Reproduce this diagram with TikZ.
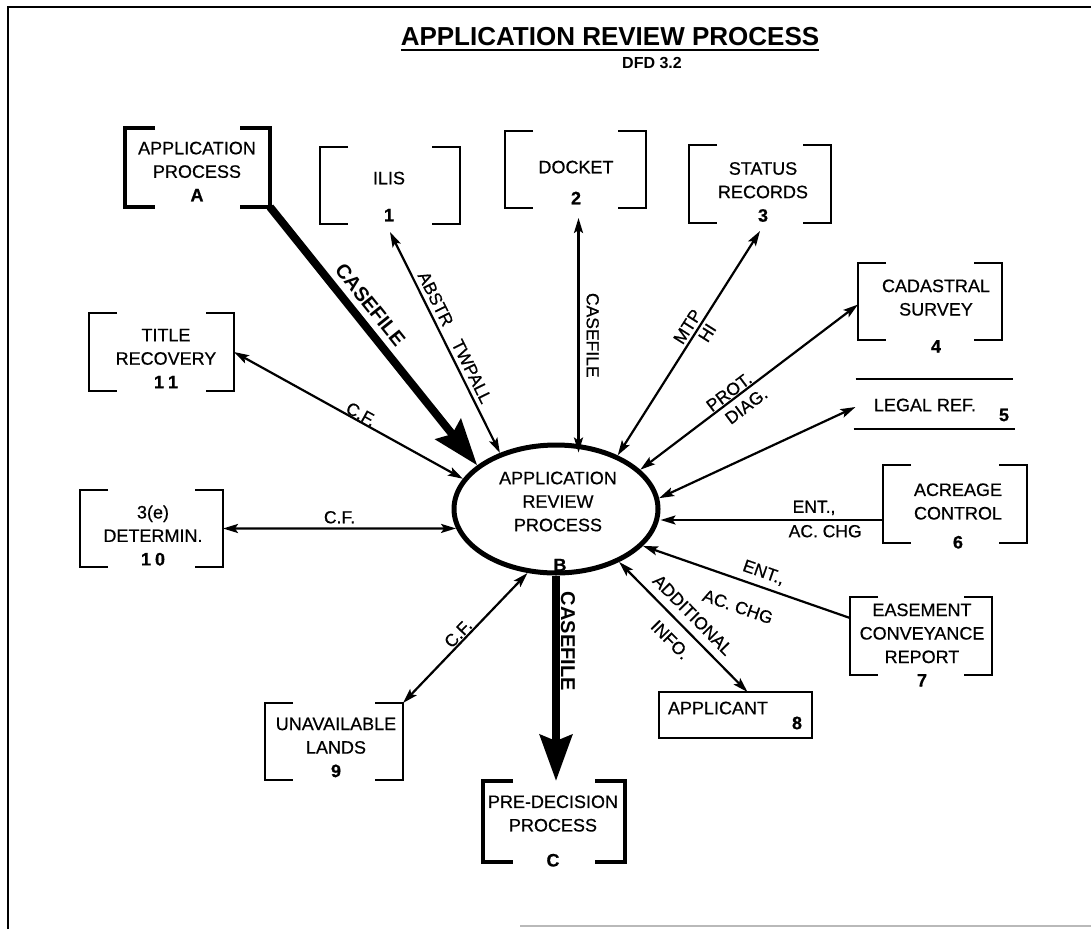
\documentclass[tikz,border=0pt]{standalone}
\usepackage{fontspec}
\setmainfont{Liberation Sans}
\newfontfamily\dfdfont{Liberation Sans}[FakeBold=0.6]
\usetikzlibrary{arrows.meta,shapes.geometric}

% brackets drawn on the left and right sides of a data-store node
\newcommand\dfdbrackets[3]{%
  \draw[#3] ([xshift=#2]#1.north west) -- (#1.north west) -- (#1.south west) -- ([xshift=#2]#1.south west);
  \draw[#3] ([xshift=-#2]#1.north east) -- (#1.north east) -- (#1.south east) -- ([xshift=-#2]#1.south east);}

\tikzset{
  every node/.style={inner sep=0pt, outer sep=0pt},
  txt/.style={font=\dfdfont\fontsize{18}{23.5}\selectfont, align=center},
  lab/.style={font=\dfdfont\fontsize{17.5}{20}\selectfont},
  heavylab/.style={font=\bfseries\fontsize{20}{24}\selectfont},
  bracket/.style={line width=2.6pt, line join=miter},
  heavybracket/.style={line width=4.8pt, line join=miter},
  flow/.style={line width=2.2pt},
  heavyflow/.style={line width=8pt, -{Stealth[length=46pt,width=32pt,inset=6pt]}},
  >={Stealth[length=15pt,width=9pt,inset=3pt]}
}

\begin{document}
\begin{tikzpicture}[x=1pt,y=-1pt]
\useasboundingbox (0,0) rectangle (1091,929);

% page frame
\draw[line width=2.5pt] (8,929) -- (8,7) -- (1091,7);
\draw[gray!55, line width=1.2pt] (520,926) -- (1091,926);

% heading
\node[font=\bfseries\fontsize{26}{30}\selectfont] (head) at (610,37) {APPLICATION REVIEW PROCESS};
\draw[line width=2pt] ([yshift=-4]head.base west) -- ([yshift=-4]head.base east);
\node[font=\bfseries\fontsize{16}{18}\selectfont] (dfd) at (652,63) {DFD 3.2};

% central process
\node[draw, ellipse, line width=5pt, minimum width=204, minimum height=128, outer sep=2.5pt] (arp) at (556,509) {};
\node[txt] (arp-t) at (558,501.5) {APPLICATION\\REVIEW\\PROCESS};
\node[txt] (arp-b) at (560,565) {\textbf{B}};

% external processes (heavy brackets)
\node[minimum width=145, minimum height=79] (procA) at (197.5,167.5) {};
\dfdbrackets{procA}{30}{heavybracket}
\node[txt] (procA-t) at (197,171.5) {APPLICATION\\PROCESS\\\textbf{A}};

\node[minimum width=142, minimum height=81] (pre) at (554,821.5) {};
\dfdbrackets{pre}{30}{heavybracket}
\node[txt] (pre-t) at (553,831) {PRE-DECISION\\PROCESS\\[11.5pt]\textbf{C}};

% data stores
\node[minimum width=140, minimum height=77] (ilis) at (390,185.5) {};
\dfdbrackets{ilis}{28}{bracket}
\node[txt] (ilis-t) at (389,196.5) {ILIS\\[13.5pt]\textbf{1}};

\node[minimum width=141, minimum height=77] (docket) at (575.5,169.5) {};
\dfdbrackets{docket}{28}{bracket}
\node[txt] (docket-t) at (576,182.5) {DOCKET\\[7.5pt]\textbf{2}};

\node[minimum width=142, minimum height=78] (status) at (760,184) {};
\dfdbrackets{status}{28}{bracket}
\node[txt] (status-t) at (763,192) {STATUS\\RECORDS\\\textbf{3}};

\node[minimum width=144, minimum height=77] (cad) at (930,301.5) {};
\dfdbrackets{cad}{28}{bracket}
\node[txt] (cad-t) at (936,316) {CADASTRAL\\SURVEY\\[13.5pt]\textbf{4}};

\node[minimum width=157, minimum height=50] (legal) at (934,404) {};
\draw[bracket] (legal.north west) -- (legal.north east);
\draw[bracket] ([xshift=-2]legal.south west) -- ([xshift=2]legal.south east);
\node[txt] (legal-t) at (925,405) {LEGAL REF.};
\node[txt] (legal-n) at (1004,415) {\textbf{5}};

\node[minimum width=144, minimum height=78] (acr) at (955,504) {};
\dfdbrackets{acr}{28}{bracket}
\node[txt] (acr-t) at (958,516) {ACREAGE\\CONTROL\\[5.5pt]\textbf{6}};

\node[minimum width=142, minimum height=78] (ease) at (921,636) {};
\dfdbrackets{ease}{28}{bracket}
\node[txt] (ease-t) at (922,645) {EASEMENT\\CONVEYANCE\\REPORT\\\textbf{7}};

\node[draw, line width=2.6pt, minimum width=153, minimum height=46] (appl) at (735.5,715) {};
\node[txt] (appl-t) at (718,708) {APPLICANT};
\node[txt] (appl-n) at (797,723) {\textbf{8}};

\node[minimum width=138, minimum height=77] (unav) at (334,741.5) {};
\dfdbrackets{unav}{28}{bracket}
\node[txt] (unav-t) at (336,747.5) {UNAVAILABLE\\LANDS\\\textbf{9}};

\node[minimum width=143, minimum height=77] (det) at (151.5,528.5) {};
\dfdbrackets{det}{28}{bracket}
\node[txt] (det-t) at (153,535.5) {3(e)\\DETERMIN.\\\textbf{1\kern4pt0}};

\node[minimum width=145, minimum height=78] (title) at (161.5,352) {};
\dfdbrackets{title}{28}{bracket}
\node[txt] (title-t) at (166,358.5) {TITLE\\RECOVERY\\\textbf{1\kern4pt1}};

% data flows
\draw[heavyflow] (procA.south east) -- (arp.151)
  node[heavylab, sloped, above=10pt, pos=.42] {CASEFILE};
\draw[heavyflow] (arp.south) -- (arp.south |- pre.north)
  node[heavylab, sloped, above=5pt, pos=.32] {CASEFILE};

\draw[flow, <->] ([yshift=-8]ilis.south) -- (arp.135)
  node[lab, sloped, above=5pt, pos=.5] {ABSTR\quad TWPALL};
\draw[flow, <->] ([xshift=3,yshift=-10]docket.south) -- ([xshift=3,yshift=-10]docket.south |- arp.north)
  node[lab, sloped, above=8pt, pos=.5] {CASEFILE};
\draw[flow, <->] (arp.41.5) -- ([yshift=-8]status.south)
  node[lab, sloped, above=4pt, pos=.55] {MTP}
  node[lab, sloped, below=4pt, pos=.57] {HI};
\draw[flow, <->] (arp.25.5) -- ([yshift=-3]cad.west)
  node[lab, sloped, above=2pt, pos=.43] {PROT.}
  node[lab, sloped, below=7pt, pos=.45] {DIAG.};
\draw[flow, <->] (arp.6.6) -- ([yshift=-3]legal.west);
\draw[flow, ->] ([yshift=-16]acr.west) -- ([yshift=-16]acr.west -| arp.east)
  node[lab, above=5pt, pos=.31] {ENT.,}
  node[lab, below=5pt, pos=.26] {AC. CHG};
\draw[flow, <-] (arp.-23.5) -- ([yshift=18]ease.west)
  node[lab, sloped, above=7pt, pos=.56] {ENT.,}
  node[lab, sloped, below=20pt, pos=.5] {AC. CHG};
\draw[flow, <->] (arp.-40.5) -- ([xshift=12]appl.north)
  node[lab, sloped, above=9pt, pos=.49] {ADDITIONAL}
  node[lab, sloped, below=12pt, pos=.5] {INFO.};
\draw[flow, <->] (title.east) -- (arp.162)
  node[lab, sloped, above=1pt, pos=.54] {C.F.};
\draw[flow, <->] (det.east) -- (arp.191)
  node[lab, above=5pt, pos=.5] {C.F.};
\draw[flow, <->] (unav.north east) -- (arp.246.4)
  node[lab, sloped, above=2pt, pos=.49] {C.F.};
\end{tikzpicture}
\end{document}
